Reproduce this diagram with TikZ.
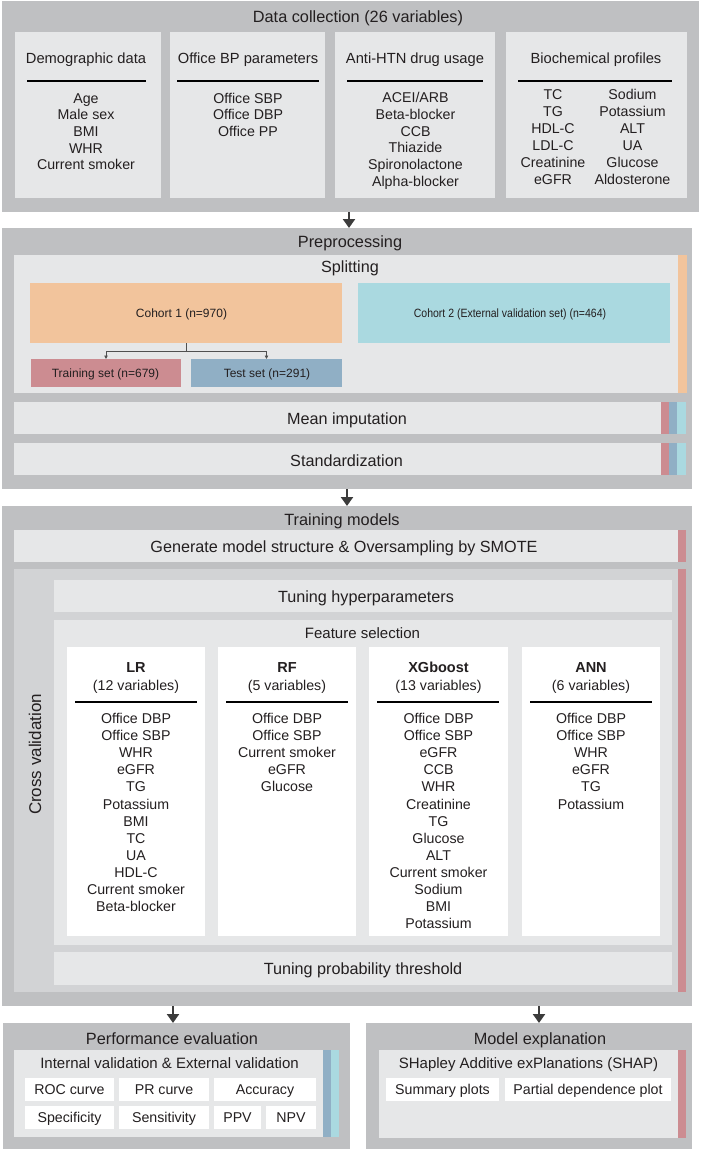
\documentclass[tikz,border=0pt]{standalone}
\usepackage{fontspec}
\setmainfont{Liberation Sans}
\usetikzlibrary{arrows.meta}
\definecolor{outg}{HTML}{BFC0C2}
\definecolor{ing}{HTML}{E6E7E8}
\definecolor{cvg}{HTML}{D2D3D5}
\definecolor{orng}{HTML}{F2C49C}
\definecolor{lblue}{HTML}{AAD9E0}
\definecolor{pnk}{HTML}{CC8C91}
\definecolor{bblue}{HTML}{90AFC5}
\definecolor{txt}{HTML}{231F20}
\definecolor{arrc}{HTML}{3C3C3C}
\newcommand{\bx}[6][]{\node[box,#1,minimum width={#4-#2},minimum height={#5-#3}] (#6) at ({(#2+#4)/2},{(#3+#5)/2}) {};}
\begin{document}
\begin{tikzpicture}[x=1pt,y=-1pt,
  box/.style={draw=none,inner sep=0pt,outer sep=0pt,rectangle},
  every node/.style={text=txt},
  ttl/.style={font=\fontsize{16.3}{19}\selectfont,anchor=base,inner sep=0pt},
  sub/.style={font=\fontsize{16.2}{19}\selectfont,anchor=base,inner sep=0pt},
  sub2/.style={font=\fontsize{15}{18}\selectfont,anchor=base,inner sep=0pt},
  hdr/.style={font=\fontsize{14.7}{17}\selectfont,anchor=base,inner sep=0pt},
  itm/.style={font=\fontsize{14.2}{17}\selectfont,anchor=base,inner sep=0pt},
  mhd/.style={font=\fontsize{14.5}{17}\selectfont\bfseries,anchor=base,inner sep=0pt},
  ctr/.style={font=\fontsize{14.2}{17}\selectfont,inner sep=0pt,text height=10.2pt,text depth=0pt,anchor=center},
  coh/.style={font=\fontsize{12}{14}\selectfont,inner sep=0pt,text height=8.6pt,text depth=0pt,anchor=center},
  rulel/.style={draw=black,line width=1.1pt},
  bigarrow/.style={draw=arrc,line width=2.6pt,-{Triangle[width=12pt,length=9pt]}},
  splitc/.style={draw=arrc!90,line width=0.8pt,-{Triangle[width=3.5pt,length=3.5pt]}}
]
\useasboundingbox (0,0) rectangle (701,1151);

% ---------------- Data collection ----------------
\bx[fill=outg]{2}{1}{699}{212}{dc}
\bx[fill=ing]{15}{32}{161}{198}{dem}
\bx[fill=ing]{170}{32}{325}{198}{obp}
\bx[fill=ing]{335}{32}{495}{198}{aht}
\bx[fill=ing]{506}{32}{687}{198}{bio}
\node[ttl] (dct) at (358,22.5) {Data collection (26 variables)};
\node[hdr] (demh) at (86,63) {Demographic data};
\node[hdr] (obph) at (248,63) {Office BP parameters};
\node[hdr] (ahth) at (415,63) {Anti-HTN drug usage};
\node[hdr] (bioh) at (596,63) {Biochemical profiles};
\draw[rulel] (27,81) -- (146,81);
\draw[rulel] (177,81) -- (319,81);
\draw[rulel] (347,81) -- (483,81);
\draw[rulel] (518,81) -- (672,81);
\foreach \t [count=\i from 0] in {Age,Male sex,BMI,WHR,Current smoker}
  \node[itm] (dem\i) at (86,103+16.7*\i) {\t};
\foreach \t [count=\i from 0] in {Office SBP,Office DBP,Office PP}
  \node[itm] (obp\i) at (248,103+16.7*\i) {\t};
\foreach \t [count=\i from 0] in {ACEI/ARB,Beta-blocker,CCB,Thiazide,Spironolactone,Alpha-blocker}
  \node[itm] (aht\i) at (415.5,102.7+16.7*\i) {\t};
\foreach \t [count=\i from 0] in {TC,TG,HDL-C,LDL-C,Creatinine,eGFR}
  \node[itm] (bioa\i) at (553,99.3+17.1*\i) {\t};
\foreach \t [count=\i from 0] in {Sodium,Potassium,ALT,UA,Glucose,Aldosterone}
  \node[itm] (biob\i) at (632.5,99.3+17.1*\i) {\t};

% ---------------- Preprocessing ----------------
\bx[fill=outg]{2}{228}{692}{489}{pre}
\bx[fill=ing]{14}{255}{678}{393}{spl}
\bx[fill=orng]{678}{255}{687}{393}{splbar}
\bx[fill=orng]{30}{283}{342}{343}{c1}
\bx[fill=lblue]{358}{283}{670}{343}{c2}
\bx[fill=pnk]{31}{359}{181}{387}{trn}
\bx[fill=bblue]{191}{359}{342}{387}{tst}
\bx[fill=ing]{14}{402}{661}{434}{mi}
\bx[fill=pnk]{661}{402}{669}{434}{mib1}
\bx[fill=bblue]{669}{402}{677}{434}{mib2}
\bx[fill=lblue]{677}{402}{686}{434}{mib3}
\bx[fill=ing]{14}{443}{661}{475}{st}
\bx[fill=pnk]{661}{443}{669}{475}{stb1}
\bx[fill=bblue]{669}{443}{677}{475}{stb2}
\bx[fill=lblue]{677}{443}{686}{475}{stb3}
\node[ttl] (pret) at (350,247) {Preprocessing};
\node[sub] (splt) at (350,272.5) {Splitting};
\node[coh] (c1t) at (181.5,313) {Cohort 1 (n=970)};
\node[coh] (c2t) at (510,313) {\scalebox{0.875}[1]{Cohort 2 (External validation set) (n=464)}};
\node[coh] (trnt) at (105.5,373) {Training set (n=679)};
\node[coh] (tstt) at (267,373) {Test set (n=291)};
\node[sub] (mit) at (347,424) {Mean imputation};
\node[sub] (stt) at (346.5,466) {Standardization};
\coordinate (sp) at (186,351);
\draw[draw=arrc!90,line width=0.8pt] (c1.south) -- (sp);
\draw[splitc] (sp) -| (trn.north);
\draw[splitc] (sp) -| (tst.north);

% ---------------- Training models ----------------
\bx[fill=outg]{2}{506}{692}{1006}{trm}
\bx[fill=ing]{14}{530}{678}{562}{gen}
\bx[fill=pnk]{678}{530}{686}{562}{genbar}
\bx[fill=cvg]{14}{569}{678}{992}{cv}
\bx[fill=pnk]{678}{569}{686}{992}{cvbar}
\bx[fill=ing]{54}{580}{672}{612}{thp}
\bx[fill=ing]{54}{620}{672}{945}{fs}
\bx[fill=white]{67}{647}{205}{936}{lr}
\bx[fill=white]{218}{647}{356}{936}{rf}
\bx[fill=white]{369}{647}{508}{936}{xg}
\bx[fill=white]{522}{647}{660}{936}{ann}
\bx[fill=ing]{54}{952}{672}{985}{tpt}
\node[ttl] (trmt) at (342,525) {Training models};
\node[sub] (gent) at (344,552) {Generate model structure \& Oversampling by SMOTE};
\node[sub] (thpt) at (366,602) {Tuning hyperparameters};
\node[sub2] (fst) at (362.5,638.5) {Feature selection};
\node[sub] (tptt) at (363,974) {Tuning probability threshold};
\node[font=\fontsize{17}{20}\selectfont,rotate=90,inner sep=0pt] (cvt) at (35,754.5) {Cross validation};

\node[mhd] (lrh) at (136,672) {LR};
\node[itm] (lrn) at (136,690) {(12 variables)};
\node[mhd] (rfh) at (287,672) {RF};
\node[itm] (rfn) at (287,690) {(5 variables)};
\node[mhd] (xgh) at (438.5,672) {XGboost};
\node[itm] (xgn) at (438.5,690) {(13 variables)};
\node[mhd] (annh) at (591,672) {ANN};
\node[itm] (annn) at (591,690) {(6 variables)};
\draw[rulel] (75,702) -- (197,702);
\draw[rulel] (226,702) -- (348,702);
\draw[rulel] (377,702) -- (499,702);
\draw[rulel] (530,702) -- (652,702);
\foreach \t [count=\i from 0] in {Office DBP,Office SBP,WHR,eGFR,TG,Potassium,BMI,TC,UA,HDL-C,Current smoker,Beta-blocker}
  \node[itm] (lri\i) at (136,723.5+17.1*\i) {\t};
\foreach \t [count=\i from 0] in {Office DBP,Office SBP,Current smoker,eGFR,Glucose}
  \node[itm] (rfi\i) at (287,723.5+17.1*\i) {\t};
\foreach \t [count=\i from 0] in {Office DBP,Office SBP,eGFR,CCB,WHR,Creatinine,TG,Glucose,ALT,Current smoker,Sodium,BMI,Potassium}
  \node[itm] (xgi\i) at (438.5,723.5+17.1*\i) {\t};
\foreach \t [count=\i from 0] in {Office DBP,Office SBP,WHR,eGFR,TG,Potassium}
  \node[itm] (anni\i) at (591,723.5+17.1*\i) {\t};

% ---------------- Performance evaluation ----------------
\bx[fill=outg]{3}{1023}{350}{1149}{perf}
\bx[fill=ing]{14}{1050}{323}{1137}{perfin}
\bx[fill=bblue]{323}{1050}{331}{1137}{pfb1}
\bx[fill=lblue]{331}{1050}{339}{1137}{pfb2}
\bx[fill=white]{25}{1078}{114}{1101}{roc}
\bx[fill=white]{119}{1078}{209}{1101}{prc}
\bx[fill=white]{214}{1078}{316}{1101}{acc}
\bx[fill=white]{25}{1106}{114}{1129}{spe}
\bx[fill=white]{119}{1106}{209}{1129}{sen}
\bx[fill=white]{214}{1106}{261}{1129}{ppv}
\bx[fill=white]{266}{1106}{316}{1129}{npv}
\node[ttl] (perft) at (172,1044) {Performance evaluation};
\node[sub2] (ivt) at (169.5,1068.5) {Internal validation \& External validation};
\node[ctr] at (roc) {ROC curve};
\node[ctr] at (prc) {PR curve};
\node[ctr] at (acc) {Accuracy};
\node[ctr] at (spe) {Specificity};
\node[ctr] at (sen) {Sensitivity};
\node[ctr] at (ppv) {PPV};
\node[ctr] at (npv) {NPV};

% ---------------- Model explanation ----------------
\bx[fill=outg]{366}{1023}{692}{1149}{mex}
\bx[fill=ing]{379}{1050}{678}{1138}{mexin}
\bx[fill=pnk]{678}{1050}{686}{1138}{mexbar}
\bx[fill=white]{386}{1078}{499}{1101}{sum}
\bx[fill=white]{505}{1078}{671}{1101}{pdp}
\node[ttl] (mext) at (540,1044) {Model explanation};
\node[sub2] (shapt) at (528.5,1068.5) {SHapley Additive exPlanations (SHAP)};
\node[ctr] at (sum) {Summary plots};
\node[ctr] at (pdp) {Partial dependence plot};

% ---------------- Arrows ----------------
\draw[bigarrow] ([xshift=-1.5pt]dc.south) -- ([xshift=-1.5pt]dc.south |- pre.north);
\draw[bigarrow] (pre.south) -- (pre.south |- trm.north);
\draw[bigarrow] ([xshift=-3.5pt]perf.north |- trm.south) -- ([xshift=-3.5pt]perf.north);
\draw[bigarrow] ([xshift=10pt]mex.north |- trm.south) -- ([xshift=10pt]mex.north);
\end{tikzpicture}
\end{document}
